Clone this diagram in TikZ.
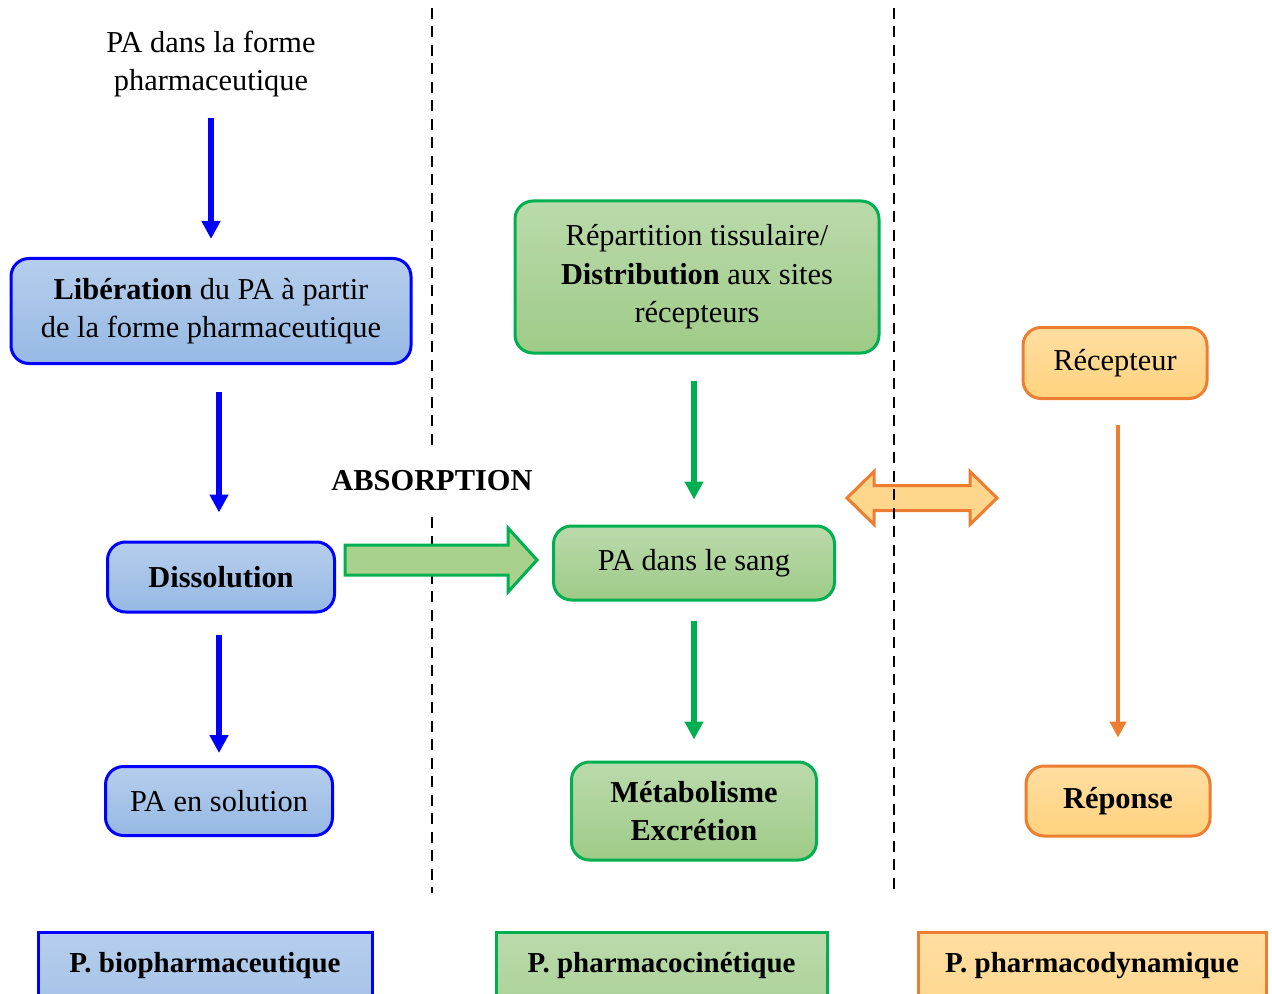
\documentclass[tikz,border=0pt]{standalone}
\usepackage{fontspec}
\setmainfont{Liberation Serif}
\usetikzlibrary{arrows.meta, calc}

\definecolor{bleu}{RGB}{0,0,255}
\definecolor{bleuhaut}{RGB}{182,206,236}
\definecolor{bleubas}{RGB}{150,185,228}
\definecolor{vert}{RGB}{0,176,80}
\definecolor{verthaut}{RGB}{187,218,172}
\definecolor{vertbas}{RGB}{158,203,135}
\definecolor{vertfleche}{RGB}{169,209,142}
\definecolor{orange}{RGB}{237,125,49}
\definecolor{orangehaut}{RGB}{255,222,162}
\definecolor{orangebas}{RGB}{255,211,126}
\definecolor{orangefleche}{RGB}{255,215,140}

\begin{document}
\begin{tikzpicture}[x=0.5pt, y=0.5pt, font=\fontsize{15.2}{19.3}\selectfont]

\tikzstyle{boite} = [rectangle, line width=1.5pt, rounded corners=9pt, align=center, text centered]
\tikzstyle{bleubox} = [boite, draw=bleu, top color=bleuhaut, bottom color=bleubas]
\tikzstyle{vertbox} = [boite, draw=vert, top color=verthaut, bottom color=vertbas]
\tikzstyle{orangebox} = [boite, draw=orange, top color=orangehaut, bottom color=orangebas]
\tikzstyle{panneau} = [rectangle, line width=1.5pt, anchor=north, align=center, text height=11pt, text depth=40pt, inner ysep=9pt, font=\fontsize{14.5}{17}\selectfont\bfseries]
\tikzstyle{bleuarrow} = [line width=3pt, draw=bleu, -{Triangle[width=9pt,length=9pt]}]
\tikzstyle{vertarrow} = [line width=3pt, draw=vert, -{Triangle[width=9pt,length=9pt]}]
\tikzstyle{orangearrow} = [line width=2.2pt, draw=orange, -{Triangle[width=8pt,length=8pt]}]
\tikzstyle{separateur} = [line width=1.25pt, dash pattern=on 5.5pt off 3.75pt]

\useasboundingbox (0,0) rectangle (1272,-994);

% phase biopharmaceutique
\node (forme) [align=center] at (211,-64) {PA dans la forme\\pharmaceutique};
\node (liberation) [bleubox, below of=forme, node distance=123.5pt, minimum width=200pt, minimum height=52.5pt] {\textbf{Libération} du PA à partir\\de la forme pharmaceutique};
\node (dissolution) [bleubox, below of=liberation, node distance=133pt, xshift=5pt, minimum width=113.5pt, minimum height=35pt] {\textbf{Dissolution}};
\node (solution) [bleubox, below of=dissolution, node distance=112pt, xshift=-1pt, minimum width=113.5pt, minimum height=34.5pt] {PA en solution};

% phase pharmacocinetique
\node (repartition) [vertbox] at (697,-277) [minimum width=182pt, minimum height=76pt] {Répartition tissulaire/\\\textbf{Distribution} aux sites\\récepteurs};
\node (sang) [vertbox, below of=repartition, node distance=143pt, xshift=-1.5pt, minimum width=140.5pt, minimum height=37pt] {PA dans le sang};
\node (metabolisme) [vertbox, below of=sang, node distance=124pt, minimum width=122.5pt, minimum height=49pt] {\textbf{Métabolisme}\\\textbf{Excrétion}};

% phase pharmacodynamique
\node (recepteur) [orangebox] at (1115,-363) [minimum width=92pt, minimum height=35.5pt] {Récepteur};
\node (reponse) [orangebox, below of=recepteur, node distance=219pt, xshift=1.5pt, minimum width=92pt, minimum height=35pt] {\textbf{Réponse}};

% bandeaux du bas
\node (bio) [panneau, draw=bleu, top color=bleuhaut, bottom color=bleubas, minimum width=167pt] at (205,-931) {P. biopharmaceutique};
\node (cinetique) [panneau, draw=vert, top color=verthaut, bottom color=vertbas, minimum width=165.5pt] at (661.5,-931) {P. pharmacocinétique};
\node (dynamique) [panneau, draw=orange, top color=orangehaut, bottom color=orangebas, minimum width=174pt] at (1092,-931) {P. pharmacodynamique};

% fleche double recepteur
\coordinate (inter gauche) at (847,-498);
\coordinate (inter droite) at (997,-498);
\draw [line width=1.5pt, draw=orange, fill=orangefleche] (inter gauche) -- ($(inter gauche)+(27,26.5)$) -- ($(inter gauche)+(27,12.5)$) -- ($(inter droite)+(-27,12.5)$) -- ($(inter droite)+(-27,26.5)$) -- (inter droite) -- ($(inter droite)+(-27,-26.5)$) -- ($(inter droite)+(-27,-12.5)$) -- ($(inter gauche)+(27,-12.5)$) -- ($(inter gauche)+(27,-26.5)$) -- cycle;

% separations
\draw [separateur] (432,-8) -- (432,-450) (432,-517) -- (432,-893);
\draw [separateur] (894,-8) -- (894,-893);

\node (absorption) at (432,-481) {\textbf{ABSORPTION}};

\draw [bleuarrow, shorten <=7pt, shorten >=9pt] (forme) -- (liberation);
\draw [bleuarrow, shorten <=13.5pt, shorten >=14pt] (liberation.south -| solution.north) -- (dissolution.north -| solution.north);
\draw [bleuarrow, shorten <=10.5pt, shorten >=6pt] (dissolution.south -| solution.north) -- (solution.north);
\draw [vertarrow, shorten <=13pt, shorten >=12.5pt] (repartition.south -| sang.north) -- (sang.north);
\draw [vertarrow, shorten <=9.5pt, shorten >=10.5pt] (sang) -- (metabolisme);
\draw [orangearrow, shorten <=12.5pt, shorten >=13.5pt] (recepteur.south -| reponse.north) -- (reponse.north);

% absorption
\coordinate (abs debut) at (345,-560);
\coordinate (abs fin) at (537,-560);
\draw [line width=1.5pt, draw=vert, fill=vertfleche] ($(abs debut)+(0,15)$) -- ($(abs fin)+(-29,15)$) -- ($(abs fin)+(-29,32)$) -- (abs fin) -- ($(abs fin)+(-29,-32)$) -- ($(abs fin)+(-29,-15)$) -- ($(abs debut)+(0,-15)$) -- cycle;

\end{tikzpicture}
\end{document}
